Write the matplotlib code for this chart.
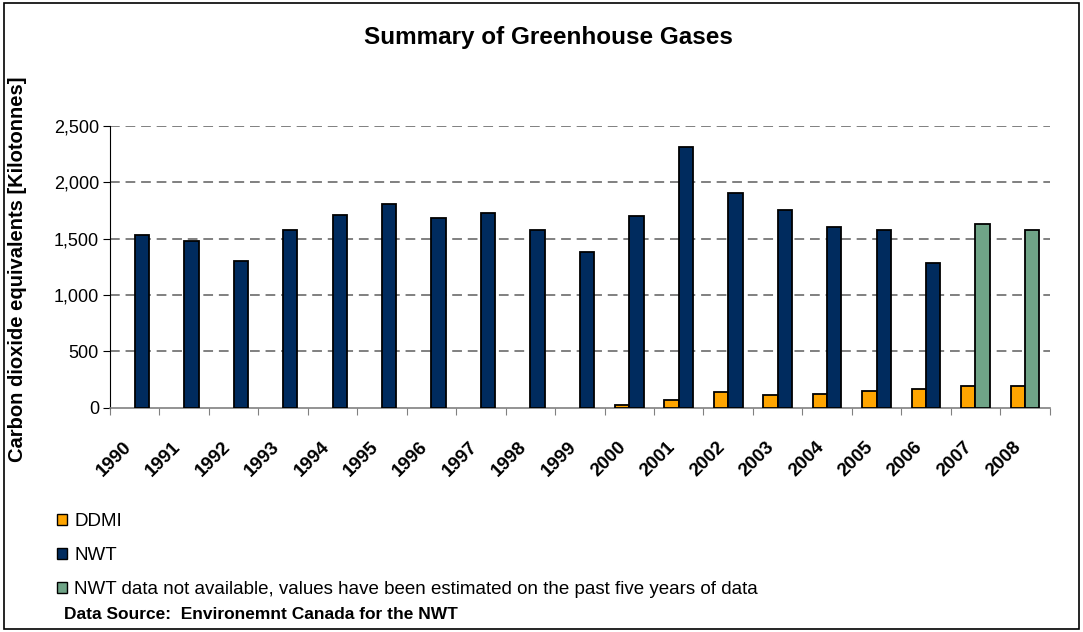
import matplotlib
matplotlib.use("Agg")
import matplotlib.pyplot as plt
from matplotlib.patches import Patch, Rectangle
from matplotlib.ticker import FuncFormatter
from matplotlib.transforms import ScaledTranslation
import numpy as np

plt.rcParams['font.family'] = ['Liberation Sans', 'DejaVu Sans']

years = [str(y) for y in range(1990, 2009)]
ddmi = [0, 0, 0, 0, 0, 0, 0, 0, 0, 0, 28, 68, 137, 112, 123, 152, 165, 195, 195]
nwt = [1530, 1480, 1300, 1575, 1710, 1810, 1685, 1727, 1575, 1380,
       1700, 2308, 1906, 1755, 1602, 1575, 1283]
nwt_est = [1627, 1575]  # 2007, 2008 estimated

c_ddmi = '#FFA500'
c_nwt = '#002B5E'
c_est = '#6FA487'

fig = plt.figure(figsize=(10.83, 6.32), dpi=100)
ax = fig.add_axes([0.1016, 0.3549, 0.8676, 0.4462])

x = np.arange(len(years)) + 0.5
w = 0.29
d = np.array(ddmi, dtype=float)
has = d > 0
ax.bar(x[has], d[has], width=-w, align='edge', color=c_ddmi, edgecolor='black', linewidth=1.3, zorder=3)
ax.bar(x[:len(nwt)], nwt, width=w, align='edge', color=c_nwt, edgecolor='black', linewidth=1.3, zorder=3)
ax.bar(x[len(nwt):], nwt_est, width=w, align='edge', color=c_est, edgecolor='black', linewidth=1.3, zorder=3)

ax.set_xlim(0, len(years))
ax.set_ylim(0, 2500)
ax.set_yticks(range(0, 2501, 500))
ax.yaxis.set_major_formatter(FuncFormatter(lambda v, p: f'{int(v):,}'))
ax.set_xticks(np.arange(len(years) + 1))
ax.set_xticklabels([])
ax.set_xticks(x, minor=True)
ax.set_xticklabels(years, minor=True, rotation=45, ha='right', va='top',
                   fontsize=13.5, fontweight='bold')
shift = ScaledTranslation(-7 / 100, 0, fig.dpi_scale_trans)
for lab in ax.get_xticklabels(minor=True):
    lab.set_transform(lab.get_transform() + shift)
ax.tick_params(axis='x', which='minor', length=0, pad=22)
ax.tick_params(axis='x', which='major', length=5, color='#808080', direction='out')
ax.tick_params(axis='y', length=5, labelsize=13, direction='out', pad=3)

for v in range(500, 2501, 500):
    ax.axhline(v, color='#808080', linestyle=(0, (5, 3)), linewidth=1.4, zorder=1)

for s in ['top', 'right']:
    ax.spines[s].set_visible(False)
ax.spines['bottom'].set_color('#808080')
ax.spines['bottom'].set_linewidth(1.2)
ax.spines['left'].set_color('black')

ax.set_ylabel('Carbon dioxide equivalents [Kilotonnes]', fontsize=14.5,
              fontweight='bold')
ax.yaxis.set_label_coords(-0.088, 0.49)

fig.text(0.506, 0.94, 'Summary of Greenhouse Gases', ha='center', va='center',
         fontsize=17.5, fontweight='bold')

handles = [Patch(facecolor=c_ddmi, edgecolor='black'),
           Patch(facecolor=c_nwt, edgecolor='black'),
           Patch(facecolor=c_est, edgecolor='black')]
labels = ['DDMI', 'NWT',
          'NWT data not available, values have been estimated on the past five years of data']
fig.legend(handles, labels, loc='upper left', bbox_to_anchor=(0.0526, 0.188),
           frameon=False, fontsize=13.5, handlelength=0.55, handleheight=0.55,
           handletextpad=0.37, labelspacing=0.9, borderpad=0, borderaxespad=0)

fig.text(0.059, 0.028, 'Data Source:  Environemnt Canada for the NWT', ha='left',
         va='center', fontsize=12.5, fontweight='bold')

fig.patches.append(Rectangle((0.004, 0.004), 0.992, 0.992, transform=fig.transFigure,
                             fill=False, edgecolor='black', linewidth=1.2))

fig.savefig('out.png', dpi=100)
